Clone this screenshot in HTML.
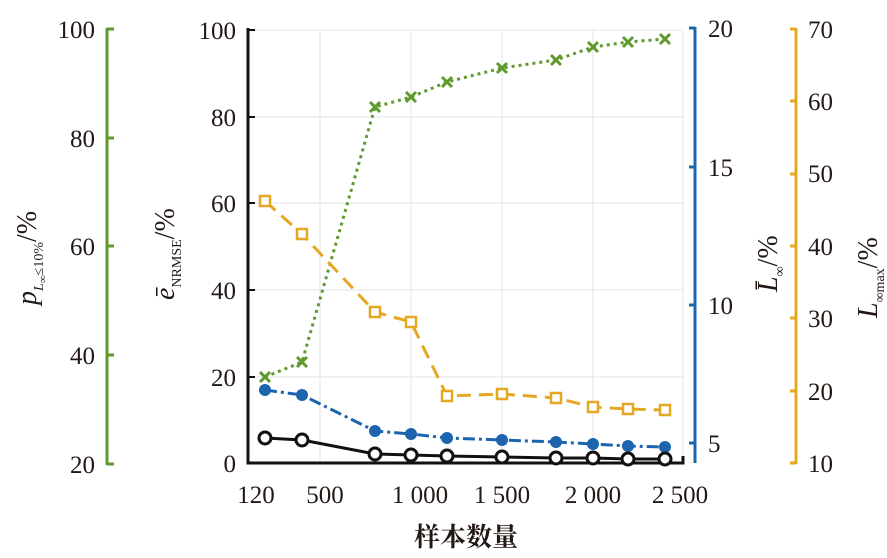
<!DOCTYPE html>
<html><head><meta charset="utf-8"><style>
html,body{margin:0;padding:0;background:#fff;}
svg text{font-family:"Liberation Serif","Noto Serif CJK SC",serif;fill:#231815;}
</style></head><body>
<svg width="887" height="553" viewBox="0 0 887 553" xmlns="http://www.w3.org/2000/svg">
<g stroke="#e3e3e3" stroke-width="1">
<line x1="248" y1="30" x2="683" y2="30"/><line x1="248" y1="117" x2="683" y2="117"/>
<line x1="248" y1="203" x2="683" y2="203"/><line x1="248" y1="290" x2="683" y2="290"/>
<line x1="248" y1="377" x2="683" y2="377"/>
<line x1="320" y1="30" x2="320" y2="463"/><line x1="411" y1="30" x2="411" y2="463"/>
<line x1="502" y1="30" x2="502" y2="463"/><line x1="593" y1="30" x2="593" y2="463"/>
<line x1="683" y1="30" x2="683" y2="463"/>
</g>
<g stroke="#111" stroke-width="3" fill="none">
<polyline points="248,28 248,463 683,463 683,456"/>
</g>
<g stroke="#111" stroke-width="2">
<line x1="248" y1="30" x2="255" y2="30"/><line x1="248" y1="117" x2="255" y2="117"/>
<line x1="248" y1="203" x2="255" y2="203"/><line x1="248" y1="290" x2="255" y2="290"/>
<line x1="248" y1="377" x2="255" y2="377"/>
</g>
<g font-size="25" text-anchor="end">
<text x="236" y="39">100</text><text x="236" y="126">80</text><text x="236" y="212">60</text>
<text x="236" y="299">40</text><text x="236" y="386">20</text><text x="236" y="472">0</text>
</g>
<g font-size="25" text-anchor="middle">
<text x="256" y="503">120</text><text x="325" y="503">500</text><text x="420" y="503">1 000</text>
<text x="502" y="503">1 500</text><text x="593" y="503">2 000</text><text x="680" y="503">2 500</text>
</g>
<text x="466" y="546" font-size="26" text-anchor="middle" font-weight="bold">样本数量</text>
<g stroke="#5e9a2e" stroke-width="3">
<line x1="107" y1="28" x2="107" y2="465"/>
<line x1="107" y1="29" x2="114" y2="29"/><line x1="107" y1="138" x2="114" y2="138"/>
<line x1="107" y1="246" x2="114" y2="246"/><line x1="107" y1="355" x2="114" y2="355"/>
<line x1="107" y1="464" x2="114" y2="464"/>
</g>
<g font-size="25" text-anchor="end">
<text x="95" y="38">100</text><text x="95" y="147">80</text><text x="95" y="255">60</text>
<text x="95" y="364">40</text><text x="95" y="473">20</text>
</g>
<text transform="translate(36,305) rotate(-90)" font-size="28" font-style="italic">p<tspan font-size="14" dy="7">L</tspan><tspan font-size="11" dy="3">∞</tspan><tspan font-size="14" dy="-3" font-style="normal">≤10%</tspan><tspan dy="-7" font-style="normal">/%</tspan></text>
<text transform="translate(174,300) rotate(-90)" font-size="28" font-style="italic">ē<tspan font-size="14" dy="7" font-style="normal">NRMSE</tspan><tspan dy="-7" font-style="normal">/%</tspan></text>
<g stroke="#1c64ad" stroke-width="3">
<line x1="695" y1="27" x2="695" y2="463"/>
<line x1="689" y1="28" x2="695" y2="28"/><line x1="689" y1="167" x2="695" y2="167"/>
<line x1="689" y1="305" x2="695" y2="305"/><line x1="689" y1="443" x2="695" y2="443"/>
</g>
<g font-size="25">
<text x="708" y="37">20</text><text x="708" y="176">15</text><text x="708" y="314">10</text><text x="708" y="452">5</text>
</g>
<text transform="translate(777,292) rotate(-90)" font-size="28" font-style="italic">L̄<tspan font-size="14" dy="7" font-style="normal">∞</tspan><tspan dy="-7" font-style="normal">/%</tspan></text>
<g stroke="#e5a823" stroke-width="3">
<line x1="796" y1="28" x2="796" y2="464"/>
<line x1="790" y1="29" x2="796" y2="29"/><line x1="790" y1="101" x2="796" y2="101"/>
<line x1="790" y1="174" x2="796" y2="174"/><line x1="790" y1="246" x2="796" y2="246"/>
<line x1="790" y1="318" x2="796" y2="318"/><line x1="790" y1="391" x2="796" y2="391"/>
<line x1="790" y1="463" x2="796" y2="463"/>
</g>
<g font-size="25">
<text x="808" y="38">70</text><text x="808" y="110">60</text><text x="808" y="182">50</text>
<text x="808" y="255">40</text><text x="808" y="327">30</text><text x="808" y="400">20</text><text x="808" y="472">10</text>
</g>
<text transform="translate(877,318) rotate(-90)" font-size="28" font-style="italic">L<tspan font-size="14" dy="7" font-style="normal">∞max</tspan><tspan dy="-7" font-style="normal">/%</tspan></text>
<polyline fill="none" stroke="#5e9a2e" stroke-width="3" stroke-dasharray="3,4" points="265,377 302,362 375,107 411,97 447,82 502,68 556,60 593,47 628,42 665,39"/>
<g stroke="#5e9a2e" stroke-width="3">
<path d="M260,372l10,10M270,372l-10,10M297,357l10,10M307,357l-10,10M370,102l10,10M380,102l-10,10M406,92l10,10M416,92l-10,10M442,77l10,10M452,77l-10,10M497,63l10,10M507,63l-10,10M551,55l10,10M561,55l-10,10M588,42l10,10M598,42l-10,10M623,37l10,10M633,37l-10,10M660,34l10,10M670,34l-10,10"/>
</g>
<polyline fill="none" stroke="#e5a823" stroke-width="3" stroke-dasharray="14,8" points="265,201 302,234 375,312 411,322 447,396 502,394 556,398 593,407 628,409 665,410"/>
<g stroke="#e5a823" stroke-width="2.5" fill="#fff">
<rect x="260" y="196" width="10" height="10"/><rect x="297" y="229" width="10" height="10"/>
<rect x="370" y="307" width="10" height="10"/><rect x="406" y="317" width="10" height="10"/>
<rect x="442" y="391" width="10" height="10"/><rect x="497" y="389" width="10" height="10"/>
<rect x="551" y="393" width="10" height="10"/><rect x="588" y="402" width="10" height="10"/>
<rect x="623" y="404" width="10" height="10"/><rect x="660" y="405" width="10" height="10"/>
</g>
<polyline fill="none" stroke="#1c64ad" stroke-width="3" stroke-dasharray="12,4,3,4" points="265,390 302,395 375,431 411,434 447,438 502,440 556,442 593,444 628,446 665,447"/>
<g fill="#1c64ad">
<circle cx="265" cy="390" r="6"/><circle cx="302" cy="395" r="6"/><circle cx="375" cy="431" r="6"/>
<circle cx="411" cy="434" r="6"/><circle cx="447" cy="438" r="6"/><circle cx="502" cy="440" r="6"/>
<circle cx="556" cy="442" r="6"/><circle cx="593" cy="444" r="6"/><circle cx="628" cy="446" r="6"/><circle cx="665" cy="447" r="6"/>
</g>
<polyline fill="none" stroke="#111" stroke-width="3" points="265,438 302,440 375,454 411,455 447,456 502,457 556,458 593,458 628,459 665,459"/>
<g stroke="#111" stroke-width="3" fill="#fff">
<circle cx="265" cy="438" r="6"/><circle cx="302" cy="440" r="6"/><circle cx="375" cy="454" r="6"/>
<circle cx="411" cy="455" r="6"/><circle cx="447" cy="456" r="6"/><circle cx="502" cy="457" r="6"/>
<circle cx="556" cy="458" r="6"/><circle cx="593" cy="458" r="6"/><circle cx="628" cy="459" r="6"/><circle cx="665" cy="459" r="6"/>
</g>
</svg>
</body></html>
